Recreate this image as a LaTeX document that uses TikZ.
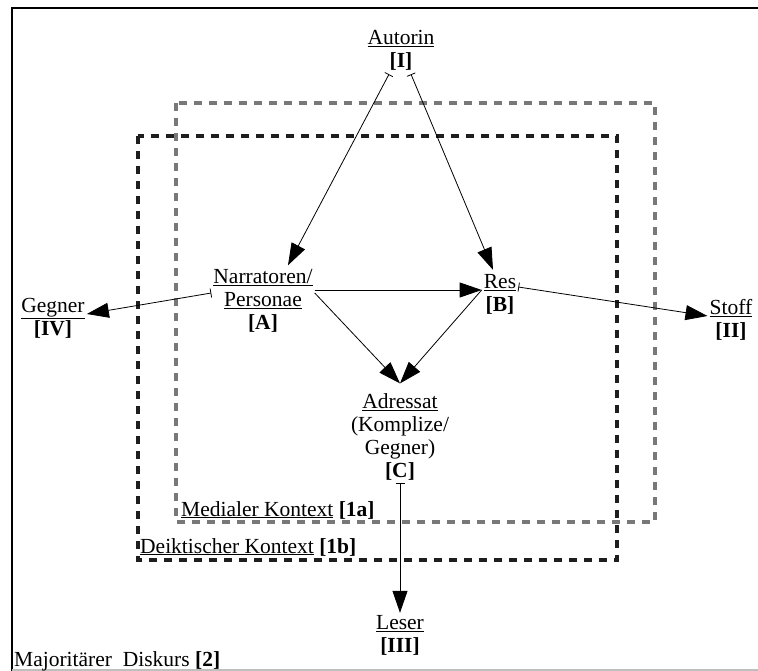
\documentclass[tikz,border=0pt]{standalone}
\usepackage{fontspec}
\setmainfont{Liberation Serif}
\usetikzlibrary{positioning,arrows.meta}
\definecolor{ctxa}{RGB}{120,120,120}
\definecolor{ctxb}{RGB}{30,30,30}

\begin{document}
\begin{tikzpicture}[x=1pt,y=-1pt,font=\fontsize{21.5}{23}\selectfont,
  >={Triangle[length=22pt,width=15pt]},
  posn/.style={align=center,inner sep=2pt},
  ctx/.style={line width=3.2pt,dash pattern=on 8pt off 7pt},
  lbl/.style={anchor=base west,inner sep=0pt},
  con/.style={{Bar[width=9pt,line width=0.8pt]}->,line width=0.8pt}]
  \useasboundingbox (0,0) rectangle (758,671);
  % frame of the majority discourse
  \draw[line width=2.8pt] (12,671) -- (12,8) -- (758,8);
  \draw[black!25,line width=1.5pt] (12,670) -- (758,670);
  % the two contexts
  \draw[ctx,ctxa] (176,103) rectangle (655,522);
  \draw[ctx,ctxb] (138,136) rectangle (617,560);
  % positions
  \node[posn] (aut) at (401,50) {\underline{Autorin}\\\textbf{[I]}};
  \node[posn] (nar) at (263,301) {\underline{Narratoren/}\\\underline{Personae}\\\textbf{[A]}};
  \node[posn] (res) at (500,294) {\underline{Res}\\\textbf{[B]}};
  \node[posn] (geg) at (53,318) {\underline{Gegner}\\\textbf{[IV]}};
  \node[posn] (sto) at (731,320) {\underline{Stoff}\\\textbf{[II]}};
  \node[posn] (adr) at (400,437) {\underline{Adressat}\\(Komplize/\\Gegner)\\\textbf{[C]}};
  \node[posn] (les) at (400,635) {\underline{Leser}\\\textbf{[III]}};
  % context labels
  \node[lbl] (med) at (181,516) {\underline{Medialer Kontext} \textbf{[1a]}};
  \node[lbl] (dei) at (140,553) {\underline{Deiktischer Kontext} \textbf{[1b]}};
  \node[lbl] (maj) at (14,666) {\underline{Majoritärer\ \ Diskurs} \textbf{[2]}};
  % connectors
  \draw[con] ([xshift=-12pt,yshift=-2pt]aut.south) -- ([xshift=25pt,yshift=2pt]nar.north);
  \draw[con] ([xshift=10pt,yshift=-2pt]aut.south) -- ([xshift=-7pt,yshift=2pt]res.north);
  \draw[->,line width=0.8pt] ([yshift=11pt]nar.east) -- ([yshift=4pt]res.west);
  \draw[->,line width=0.8pt] ([yshift=8pt]nar.east) -- ([yshift=8pt]adr.north);
  \draw[->,line width=0.8pt] ([yshift=4pt]res.west) -- ([yshift=8pt]adr.north);
  \draw[con] ([yshift=8pt]nar.west) -- ([yshift=4pt]geg.east);
  \draw[con] ([yshift=7pt]res.east) -- ([yshift=4pt]sto.west);
  \draw[con] (adr.south) -- (les.north);
\end{tikzpicture}
\end{document}
